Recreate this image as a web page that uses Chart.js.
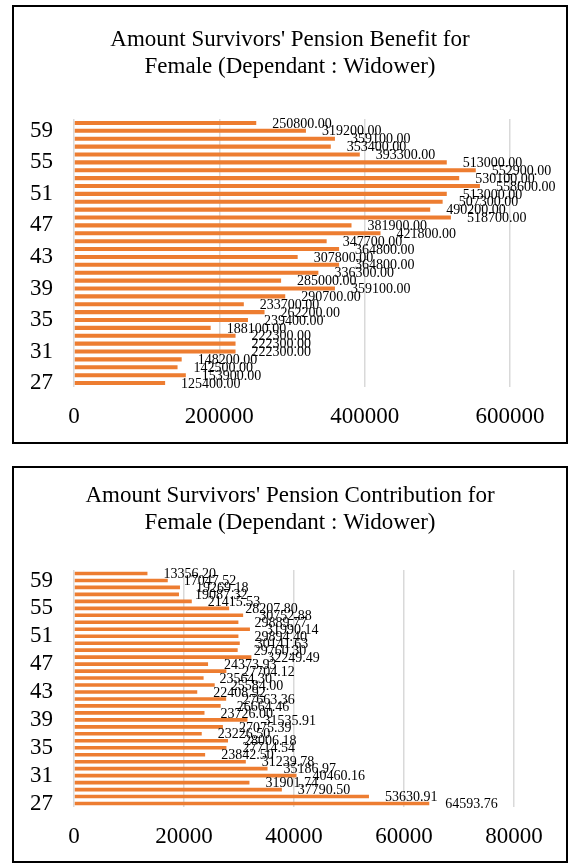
<!DOCTYPE html>
<html>
<head>
<meta charset="utf-8">
<script src="https://cdn.jsdelivr.net/npm/chart.js@4.4.7/dist/chart.umd.min.js"></script>
<style>
  html, body { margin: 0; padding: 0; background: #fff; }
  body { width: 572px; height: 863px; position: relative; overflow: hidden; }
  .box { position: absolute; left: 12px; width: 556px; box-sizing: border-box; border: 2px solid #000; }
  #box-benefit { top: 5px; height: 439px; }
  #box-contrib { top: 466px; height: 397px; }
  canvas { display: block; }
</style>
</head>
<body>
<div class="box" id="box-benefit"><canvas id="chart-benefit" width="552" height="435"></canvas></div>
<div class="box" id="box-contrib"><canvas id="chart-contrib" width="552" height="393"></canvas></div>
<script>
// Age of the insured (bottom to top)
const ages = [27, 28, 29, 30, 31, 32, 33, 34, 35, 36, 37, 38, 39, 40, 41, 42, 43,
  44, 45, 46, 47, 48, 49, 50, 51, 52, 53, 54, 55, 56, 57, 58, 59, 60];

// Survivors' pension benefit, by age
const benefit = [125400, 153900, 142500, 148200, 222300, 222300, 222300, 188100,
  239400, 262200, 233700, 290700, 359100, 285000, 336300, 364800, 307800,
  364800, 347700, 421800, 381900, 518700, 490200, 507300, 513000, 558600,
  530100, 552900, 513000, 393300, 353400, 359100, 319200, 250800];

// Survivors' pension contribution, by age
const contribution = [64593.76, 53630.91, 37790.50, 31901.74, 40460.16, 35186.97,
  31239.78, 23842.50, 27714.54, 28006.18, 23226.50, 27075.39, 31535.91,
  23726.00, 26664.46, 27663.36, 22408.92, 25584.00, 23564.30, 27704.12,
  24373.93, 32249.49, 29760.30, 30141.63, 29894.40, 31990.14, 29889.77,
  30752.88, 28207.80, 21415.53, 19087.32, 19269.18, 17047.52, 13356.20];

const benefitTicks = [0, 200000, 400000, 600000];
const contribTicks = [0, 20000, 40000, 60000, 80000];

const FONT = "'Liberation Serif', 'Times New Roman', serif";
const BAR_COLOR = '#ED7D31';
const GRID_COLOR = '#d9d9d9';

// data labels drawn past the end of each bar
const valueLabels = {
  id: 'valueLabels',
  afterDatasetsDraw(chart) {
    const ctx = chart.ctx;
    const meta = chart.getDatasetMeta(0);
    const data = chart.data.datasets[0].data;
    ctx.save();
    ctx.font = '14px ' + FONT;
    ctx.fillStyle = '#000';
    ctx.textAlign = 'left';
    ctx.textBaseline = 'middle';
    meta.data.forEach((bar, i) => {
      ctx.fillText(data[i].toFixed(2), bar.x + 16, bar.y + 1);
    });
    ctx.restore();
  },
};

// title centred on the whole box (the plot area is not centred)
const boxTitle = {
  id: 'boxTitle',
  afterDraw(chart, args, opts) {
    const ctx = chart.ctx;
    ctx.save();
    ctx.font = '23px ' + FONT;
    ctx.fillStyle = '#000';
    ctx.textAlign = 'center';
    ctx.textBaseline = 'alphabetic';
    opts.lines.forEach((line, i) => {
      ctx.fillText(line, chart.width / 2, opts.baseline + i * opts.lineGap);
    });
    ctx.restore();
  },
};

function renderChart(id, title, values, ticks, opts) {
  const ctx = document.getElementById(id);
  return new Chart(ctx, {
    type: 'bar',
    data: {
      labels: ages,
      datasets: [{
        data: values,
        backgroundColor: BAR_COLOR,
        borderWidth: 0,
        categoryPercentage: 1,
        barPercentage: 0.52,
      }],
    },
    plugins: [valueLabels, boxTitle],
    options: {
      indexAxis: 'y',
      responsive: false,
      animation: false,
      layout: { padding: { left: 0, right: opts.right, top: opts.top, bottom: 0 } },
      plugins: {
        legend: { display: false },
        tooltip: { enabled: false },
        title: { display: false },
        boxTitle: { lines: title, baseline: opts.titleBase, lineGap: 27 },
      },
      scales: {
        x: {
          min: 0,
          max: ticks[ticks.length - 1],
          afterBuildTicks: (s) => { s.ticks = ticks.map((v) => ({ value: v })); },
          afterFit: (s) => { s.height = opts.xHeight; },
          grid: { color: GRID_COLOR, lineWidth: 1.5, drawTicks: false },
          border: { display: false },
          ticks: {
            color: '#000',
            font: { family: FONT, size: 23 },
            padding: opts.xPad,
            maxRotation: 0,
            callback: (v) => String(v),
          },
        },
        y: {
          reverse: true,
          afterFit: (s) => { s.width = 60; },
          grid: { display: false, drawTicks: false },
          border: { display: false },
          ticks: {
            autoSkip: false,
            color: '#000',
            font: { family: FONT, size: 23 },
            padding: 21,
            callback: function (v, i) { return i % 4 === 0 ? this.getLabelForValue(v) : ''; },
          },
        },
      },
    },
  });
}

renderChart('chart-benefit',
  ["Amount Survivors' Pension Benefit for", 'Female (Dependant : Widower)'],
  benefit, benefitTicks, { right: 56, top: 112, titleBase: 39, xHeight: 55, xPad: 16 });

renderChart('chart-contrib',
  ["Amount Survivors' Pension Contribution for", 'Female (Dependant : Widower)'],
  contribution, contribTicks, { right: 52, top: 102, titleBase: 34, xHeight: 54, xPad: 16 });
</script>
</body>
</html>
